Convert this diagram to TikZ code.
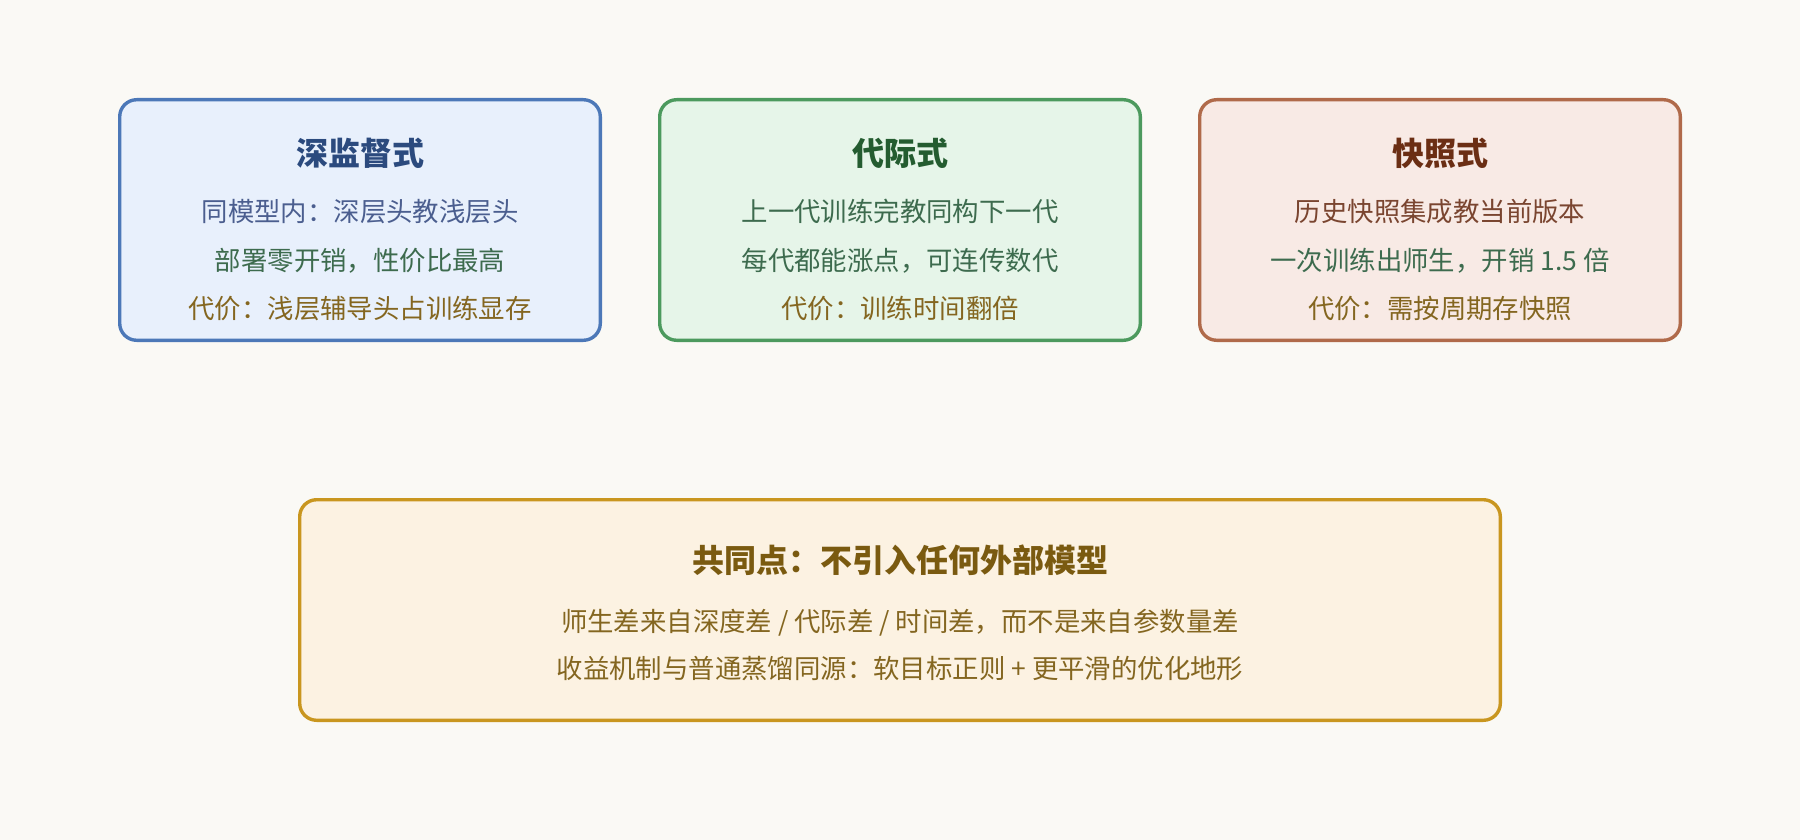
\documentclass[tikz,border=0pt]{standalone}
\usepackage{fontspec}
\setmainfont{Noto Sans CJK SC}
\definecolor{bgc}{HTML}{FAF9F5}
\definecolor{b1f}{HTML}{E8F0FC}\definecolor{b1d}{HTML}{4C78B8}
\definecolor{b2f}{HTML}{E6F5E9}\definecolor{b2d}{HTML}{4C9A5E}
\definecolor{b3f}{HTML}{F8EAE5}\definecolor{b3d}{HTML}{B06A4A}
\definecolor{b4f}{HTML}{FCF2E2}\definecolor{b4d}{HTML}{C9961F}
\definecolor{t1}{HTML}{2B4A7E}\definecolor{t2}{HTML}{245C30}
\definecolor{t3}{HTML}{6B2E14}\definecolor{t4}{HTML}{7A5A10}
\definecolor{l1blue}{HTML}{4B5E8F}\definecolor{lgreen}{HTML}{3D6B4E}
\definecolor{lbrown}{HTML}{7A4530}\definecolor{lgold}{HTML}{846620}
\begin{document}
\begin{tikzpicture}[x=1pt,y=-1pt,
  card/.style={draw, line width=3.4pt, rounded corners=17pt, inner sep=0pt},
  ttl/.style={anchor=base, inner sep=0pt, font=\fontsize{32}{32}\selectfont\bfseries},
  txt/.style={anchor=base, inner sep=0pt, font=\fontsize{26.4}{26.4}\selectfont}]
\useasboundingbox (0,0) rectangle (1800,840);
\fill[bgc] (0,0) rectangle (1800,840);
% cards
\node[card, fill=b1f, draw=b1d, minimum width=480.6pt, minimum height=240.6pt] (box1) at (360,220) {};
\node[card, fill=b2f, draw=b2d, minimum width=480.6pt, minimum height=240.6pt] (box2) at (900,220) {};
\node[card, fill=b3f, draw=b3d, minimum width=480.6pt, minimum height=240.6pt] (box3) at (1440,220) {};
\node[card, fill=b4f, draw=b4d, minimum width=1200.6pt, minimum height=220.6pt] (box4) at (900,610) {};
% box 1
\node[ttl, text=t1] (h1) at (360,165.2) {深监督式};
\node[txt, text=l1blue] (a1) at (360,221) {同模型内：深层头教浅层头};
\node[txt, text=lgreen] (a2) at (360,270) {部署零开销，性价比最高};
\node[txt, text=lgold] (a3) at (360,318) {代价：浅层辅导头占训练显存};
% box 2
\node[ttl, text=t2] (h2) at (900,165.2) {代际式};
\node[txt, text=lgreen] (b1) at (900,221) {上一代训练完教同构下一代};
\node[txt, text=lgreen] (b2) at (900,270) {每代都能涨点，可连传数代};
\node[txt, text=lgold] (b3) at (900,318) {代价：训练时间翻倍};
% box 3
\node[ttl, text=t3] (h3) at (1440,165.2) {快照式};
\node[txt, text=lbrown] (c1) at (1440,221) {历史快照集成教当前版本};
\node[txt, text=lgreen] (c2) at (1440,270) {一次训练出师生，开销 1.5 倍};
\node[txt, text=lgold] (c3) at (1440,318) {代价：需按周期存快照};
% bottom
\node[ttl, text=t4] (h4) at (900,572.2) {共同点：不引入任何外部模型};
\node[txt, text=lgold] (d1) at (900,631) {师生差来自深度差 / 代际差 / 时间差，而不是来自参数量差};
\node[txt, text=lgold] (d2) at (900,678) {收益机制与普通蒸馏同源：软目标正则 + 更平滑的优化地形};
\end{tikzpicture}
\end{document}
